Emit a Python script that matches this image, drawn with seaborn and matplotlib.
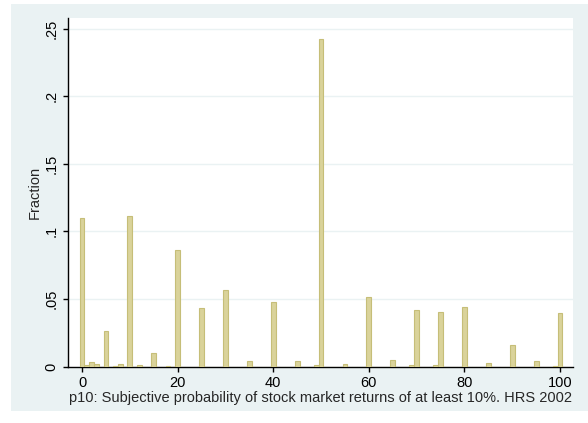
import matplotlib
matplotlib.use("Agg")
import matplotlib.pyplot as plt
import matplotlib.patches as mpatches
import seaborn as sns
import pandas as pd

# Responses (percent chance) and the fraction of respondents giving each one
responses = [0, 1, 2, 3, 5, 7, 8, 10, 12, 15, 18, 20, 25, 30, 35, 40, 45, 49,
             50, 55, 60, 65, 69, 70, 74, 75, 80, 85, 90, 95, 99, 100]
fractions = [0.1098, 0.0012, 0.0035, 0.0018, 0.0262, 0.0005, 0.0015, 0.1117,
             0.0010, 0.0098, 0.0005, 0.0866, 0.0433, 0.0565, 0.0038, 0.0477,
             0.0040, 0.0008, 0.2425, 0.0015, 0.0516, 0.0048, 0.0010, 0.0418,
             0.0008, 0.0404, 0.0442, 0.0025, 0.0160, 0.0040, 0.0006, 0.0395]

y_ticks = [0, 0.05, 0.10, 0.15, 0.20, 0.25]
y_tick_labels = ["0", ".05", ".1", ".15", ".2", ".25"]
x_ticks = [0, 20, 40, 60, 80, 100]
x_label = "p10: Subjective probability of stock market returns of at least 10%. HRS 2002"
y_label = "Fraction"

df = pd.DataFrame({"p10": responses, "frac": fractions})

sns.set_style("white")
plt.rcParams["font.family"] = ["Liberation Sans", "DejaVu Sans"]

bg = "#eaf2f3"
fig = plt.figure(figsize=(5.88, 4.23), dpi=100, facecolor="white")
fig.patches.append(mpatches.Rectangle((11 / 588, 1 - 411 / 423), 577 / 588, 407 / 423,
                                      transform=fig.transFigure, facecolor=bg,
                                      edgecolor="none", zorder=-10))
ax = fig.add_axes([68 / 588, 1 - 366.5 / 423, 505 / 588, 348.5 / 423])
ax.set_facecolor("white")

sns.histplot(data=df, x="p10", weights="frac", discrete=True, stat="count",
             color="#dad39a", edgecolor="#c6be78", linewidth=0.8, alpha=1,
             ax=ax, zorder=3)

ax.set_xlim(-2.93, 102.7)
ax.set_ylim(0, 0.258)
ax.set_yticks(y_ticks)
ax.set_yticklabels(y_tick_labels, rotation=90, va="center")
ax.set_xticks(x_ticks)
ax.set_xticklabels([str(t) for t in x_ticks])
for y in y_ticks[1:]:
    ax.axhline(y, color=bg, lw=1.0, zorder=1)

for side in ["top", "right"]:
    ax.spines[side].set_visible(False)
for side in ["left", "bottom"]:
    ax.spines[side].set_color("black")
    ax.spines[side].set_linewidth(1.0)

ax.tick_params(axis="both", direction="out", length=3.6, width=1, color="black",
               labelsize=10.5, labelcolor="black", pad=3, bottom=True, left=True)
ax.set_xlabel(x_label, fontsize=10.5, labelpad=1)
ax.set_ylabel(y_label, fontsize=10.5, labelpad=2)

fig.savefig("out.png", dpi=100, facecolor="white")
